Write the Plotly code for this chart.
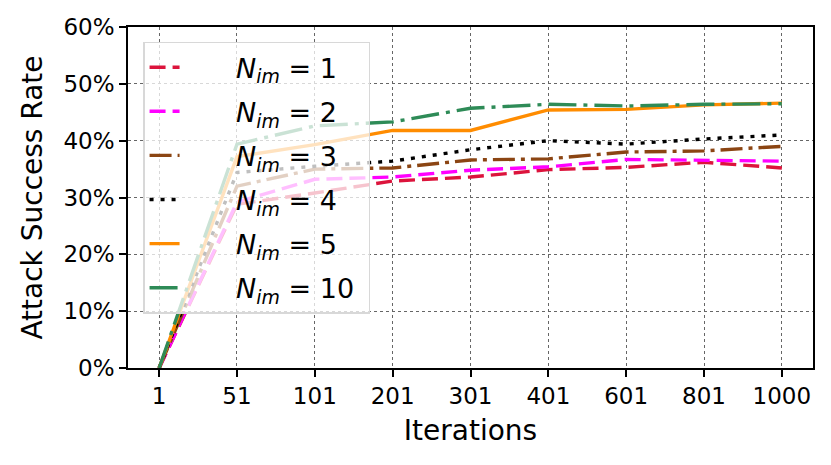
import plotly.graph_objects as go

iterations = ["1", "51", "101", "201", "301", "401", "601", "801", "1000"]

n_im_1 = [0, 28.8, 30.8, 32.9, 33.6, 34.9, 35.3, 36.2, 35.2]
n_im_2 = [0, 29.2, 33.2, 33.6, 34.8, 35.4, 36.7, 36.5, 36.4]
n_im_3 = [0, 32.0, 35.0, 35.2, 36.6, 36.8, 38.0, 38.2, 39.0]
n_im_4 = [0, 34.4, 35.5, 36.4, 38.4, 40.0, 39.4, 40.3, 41.0]
n_im_5 = [0, 37.2, 39.3, 41.8, 41.8, 45.4, 45.5, 46.3, 46.6]
n_im_10 = [0, 39.4, 42.6, 43.3, 45.7, 46.4, 46.1, 46.4, 46.5]

y_ticks = [0, 10, 20, 30, 40, 50, 60]
y_tick_text = ["0%", "10%", "20%", "30%", "40%", "50%", "60%"]

series = [
    ("1", n_im_1, "#DC143C", "16px,7px"),
    ("2", n_im_2, "#FF00FF", "16px,7px"),
    ("3", n_im_3, "#8B4513", "22px,6px,4px,6px"),
    ("4", n_im_4, "#000000", "4px,7px"),
    ("5", n_im_5, "#FF8C00", "solid"),
    ("10", n_im_10, "#2E8B57", "28px,7px,4px,7px"),
]

fig = go.Figure()
for lab, vals, col, dash in series:
    fig.add_trace(go.Scatter(
        x=iterations, y=vals, mode="lines",
        name="&nbsp;" * 6 + "<i>N</i><sub><i>im</i></sub> = " + lab + "&nbsp;",
        legendgroup=lab,
        line=dict(color=col, width=3.4, dash=dash),
    ))

axis_common = dict(
    showline=True, linecolor="black", linewidth=1.6, mirror=True,
    ticks="outside", ticklen=7, tickwidth=1.6, tickcolor="black",
    showgrid=True, gridcolor="#666666", gridwidth=0.8, griddash="dot",
    zeroline=False, tickfont=dict(size=23, color="black"),
)

fig.update_layout(
    width=831, height=465,
    margin=dict(l=128, r=18, t=27, b=97),
    paper_bgcolor="white", plot_bgcolor="white",
    font=dict(family="DejaVu Sans", color="black"),
    showlegend=True,
    legend=dict(
        x=0.022, y=0.957, xanchor="left", yanchor="top",
        bgcolor="rgba(255,255,255,0.75)", bordercolor="#d8d8d8", borderwidth=1.5,
        font=dict(size=27), tracegroupgap=6,
    ),
    xaxis=dict(axis_common, type="category", range=[-0.4, 8.4],
               title=dict(text="Iterations", font=dict(size=28), standoff=12)),
    yaxis=dict(axis_common, range=[0, 60], tickvals=y_ticks, ticktext=y_tick_text,
               title=dict(text="Attack Success Rate", font=dict(size=28), standoff=13)),
)

fig.write_html("out.html", config={"displayModeBar": False},
               post_script="document.body.style.margin='0px';document.body.style.overflow='hidden';")
